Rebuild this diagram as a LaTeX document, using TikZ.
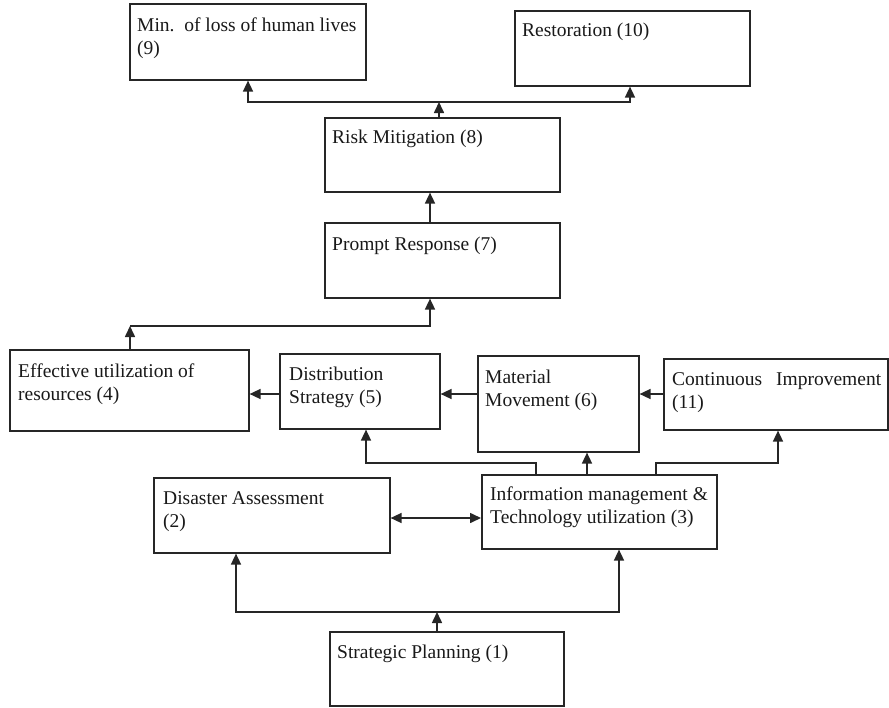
\documentclass[tikz,border=0pt]{standalone}
\usepackage{fontspec}
\setmainfont{Liberation Serif}
\usetikzlibrary{arrows.meta}
\begin{document}
\begin{tikzpicture}[x=1pt,y=-1pt,
  box/.style={draw=black!85, line width=1.6pt, inner sep=0pt, anchor=north west, rectangle},
  txt/.style={anchor=base west, inner sep=0pt, text=black!90, font=\fontsize{19.5}{23}\selectfont},
  arr/.style={draw=black!85, line width=1.6pt, -{Triangle[length=11pt,width=10pt]}},
  arrb/.style={draw=black!85, line width=1.6pt, {Triangle[length=11pt,width=10pt]}-{Triangle[length=11pt,width=10pt]}}]
\useasboundingbox (0,0) rectangle (889,707);
% boxes
\node[box, minimum width=236pt, minimum height=76pt] (b9) at (129,3) {};
\node[box, minimum width=235pt, minimum height=75pt] (b10) at (514,10) {};
\node[box, minimum width=235pt, minimum height=74pt] (b8) at (324,117) {};
\node[box, minimum width=235pt, minimum height=75pt] (b7) at (324,222) {};
\node[box, minimum width=239pt, minimum height=81pt] (b4) at (9,349) {};
\node[box, minimum width=160pt, minimum height=75pt] (b5) at (279,353) {};
\node[box, minimum width=161pt, minimum height=96pt] (b6) at (477,355) {};
\node[box, minimum width=224pt, minimum height=71pt] (b11) at (663,358) {};
\node[box, minimum width=236pt, minimum height=75pt] (b2) at (153,477) {};
\node[box, minimum width=235pt, minimum height=74pt] (b3) at (481,474) {};
\node[box, minimum width=234pt, minimum height=74pt] (b1) at (329,631) {};
% texts
\node[txt] (t9) at (137,31) {\parbox[t]{230pt}{\raggedright Min.\ \ of loss of human lives\\(9)}};
\node[txt] (t10) at (522,36) {Restoration (10)};
\node[txt] (t8) at (332,143) {Risk Mitigation (8)};
\node[txt] (t7) at (332,250) {Prompt Response (7)};
\node[txt] (t4) at (18,377) {\parbox[t]{230pt}{\raggedright Effective utilization of\\resources (4)}};
\node[txt] (t5) at (289,380) {\parbox[t]{150pt}{\raggedright Distribution\\Strategy (5)}};
\node[txt] (t6) at (485,383) {\parbox[t]{150pt}{\raggedright Material\\Movement (6)}};
\node[txt] (t11) at (672,385) {\parbox[t]{215pt}{\raggedright Continuous\hspace{14pt}Improvement\\(11)}};
\node[txt] (t2) at (163,504) {\parbox[t]{225pt}{\raggedright Disaster Assessment\\(2)}};
\node[txt] (t3) at (490,500) {\parbox[t]{225pt}{\raggedright Information management \&\\Technology utilization (3)}};
\node[txt] (t1) at (337,658) {Strategic Planning (1)};
% connectors bottom
\coordinate (j1) at (437,612);
\coordinate (j1l) at (236,612);
\coordinate (j1r) at (619,612);
\draw[arr] (j1 |- b1.north) -- (j1);
\draw[arr] (j1) -- (j1l) -- (j1l |- b2.south);
\draw[arr] (j1) -- (j1r) -- (j1r |- b3.south);
\coordinate (m23) at (435,518);
\draw[arrb] (b2.east |- m23) -- (b3.west |- m23);
% from 3 upwards
\coordinate (u5a) at (536,463);
\coordinate (u5b) at (366,463);
\draw[arr] (u5a |- b3.north) -- (u5a) -- (u5b) -- (u5b |- b5.south);
\coordinate (u6) at (587,463);
\draw[arr] (u6 |- b3.north) -- (u6 |- b6.south);
\coordinate (u11a) at (656,463);
\coordinate (u11b) at (778,463);
\draw[arr] (u11a |- b3.north) -- (u11a) -- (u11b) -- (u11b |- b11.south);
% horizontal chain
\coordinate (h) at (0,394);
\draw[arr] (b11.west |- h) -- (b6.east |- h);
\draw[arr] (b6.west |- h) -- (b5.east |- h);
\draw[arr] (b5.west |- h) -- (b4.east |- h);
% 4 -> 7
\coordinate (k4) at (130,326);
\coordinate (k7) at (430,326);
\draw[arr] (k4 |- b4.north) -- (k4);
\draw[arr] (k4) -- (k7) -- (k7 |- b7.south);
% 7 -> 8
\draw[arr] (k7 |- b7.north) -- (k7 |- b8.south);
% 8 -> 9, 10
\coordinate (j2) at (439,102);
\coordinate (j2l) at (248,102);
\coordinate (j2r) at (630,102);
\draw[arr] (j2 |- b8.north) -- (j2);
\draw[arr] (j2) -- (j2l) -- (j2l |- b9.south);
\draw[arr] (j2) -- (j2r) -- (j2r |- b10.south);
\end{tikzpicture}
\end{document}
